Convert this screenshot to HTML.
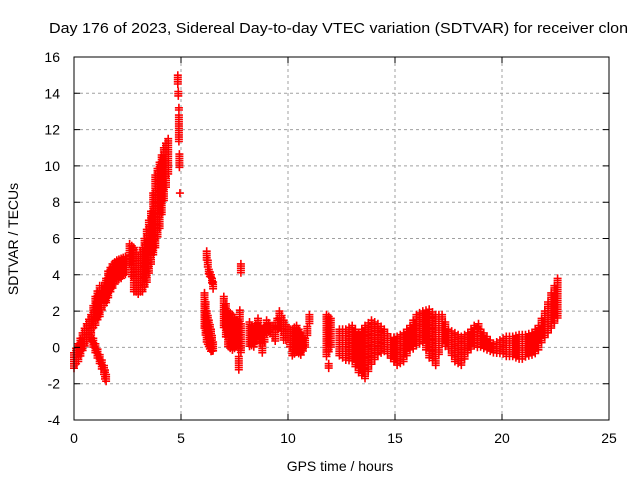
<!DOCTYPE html>
<html><head><meta charset="utf-8"><style>
body{margin:0;background:#fff;}
svg{display:block;font-family:"Liberation Sans",sans-serif;}
</style></head><body>
<svg id="chart" width="640" height="480" xmlns="http://www.w3.org/2000/svg">
<rect width="640" height="480" fill="#fff"/>
<text x="49" y="33" font-size="15" textLength="579" lengthAdjust="spacingAndGlyphs">Day 176 of 2023, Sidereal Day-to-day VTEC variation (SDTVAR) for receiver clon</text>
<g id="grid"></g>
<g id="marks"></g>
<rect x="74" y="57" width="535" height="363" fill="none" stroke="#000" stroke-width="1"/>
<g id="ticks"></g>
<text x="340" y="471" font-size="14" text-anchor="middle">GPS time / hours</text>
<text transform="translate(18,239) rotate(-90)" font-size="14" text-anchor="middle">SDTVAR / TECUs</text>
</svg>
<script>
const xTicks=[0,5,10,15,20,25];
const yTicks=[-4,-2,0,2,4,6,8,10,12,14,16];
// samples: hour, min value, max value
const sampleX=[0.0,0.2,0.4,0.6,0.8,1.0,1.2,1.4,1.6,1.8,2.0,2.2,2.4,
 0.8,1.0,1.2,1.4,1.5,
 2.6,2.8,3.0,3.2,3.4,3.6,3.8,4.0,4.2,4.4,
 4.85,4.9,4.9,4.95,
 6.2,6.3,6.4,6.5,6.1,6.2,6.3,6.4,6.5,
 7.0,7.2,7.4,7.6,7.8,7.7,7.8,
 8.2,8.4,8.6,8.8,9.0,9.2,9.4,9.6,9.8,10.0,
 10.2,10.4,10.6,10.8,11.0,11.8,12.0,11.9,
 12.4,12.7,13.0,13.3,13.6,13.9,14.2,14.5,14.8,15.1,15.4,15.7,16.0,16.3,16.6,16.9,17.2,17.5,17.8,18.1,18.4,18.7,19.0,19.3,19.6,19.9,20.2,20.5,20.8,21.1,21.4,21.7,22.0,22.3,22.6,18.9];
const sampleLo=[-1.2,-0.8,-0.2,0.3,0.8,1.2,1.7,2.2,2.7,3.2,3.6,3.8,4.0,
 0.2,-0.4,-1.0,-1.6,-1.9,
 4.6,3.0,2.9,3.0,3.5,4.5,5.5,6.5,8.0,9.5,
 14.5,13.0,11.3,8.4,
 4.8,4.0,3.8,3.2,1.0,0.3,0.0,-0.3,-0.2,
 1.0,0.0,-0.2,0.0,-0.3,-1.3,4.0,
 0.0,0.0,0.6,-0.3,0.7,0.8,0.3,1.5,0.3,0.5,
 -0.5,-0.3,-0.5,0.0,1.2,-0.6,0.0,-1.2,
 -0.5,-0.8,-0.8,-1.5,-1.8,-1.0,-0.5,-0.3,-0.6,-1.0,-0.8,-0.2,0.0,0.2,-0.6,-1.0,0.2,-0.2,-0.8,-1.0,-0.3,0.0,0.0,-0.2,-0.4,-0.4,-0.5,-0.6,-0.7,-0.6,-0.5,-0.2,0.5,1.0,1.5,1.0];
const sampleHi=[-0.3,0.2,0.8,1.3,1.8,2.8,3.4,3.4,4.2,4.6,4.8,4.9,5.0,
 0.8,0.2,-0.4,-1.0,-1.5,
 5.7,5.5,5.0,5.5,6.5,7.5,9.5,10.2,11.0,11.5,
 15.0,13.2,12.8,8.5,
 5.3,4.3,4.0,3.6,3.0,2.0,1.5,1.0,0.3,
 2.8,2.0,1.8,1.5,1.3,-0.5,4.6,
 1.4,1.0,1.6,0.8,1.5,1.2,1.2,2.0,1.5,1.0,
 1.0,1.2,0.8,0.5,1.8,1.8,1.6,-0.9,
 1.0,1.0,1.2,0.8,1.2,1.5,1.3,1.0,0.5,0.6,0.8,1.2,1.8,2.0,2.1,1.8,1.8,1.0,0.8,0.6,0.8,1.2,1.0,0.6,0.2,0.4,0.6,0.6,0.7,0.7,0.8,1.2,2.0,3.0,3.8,1.3];
const X0=74,X1=609,Y0=420,Y1=57;
function xs(v){return X0+(v-0)/(25-0)*(X1-X0);}
function ys(v){return Y0-(v+4)/(16+4)*(Y0-Y1);}
const NS="http://www.w3.org/2000/svg";
const grid=document.getElementById('grid'),ticks=document.getElementById('ticks'),marks=document.getElementById('marks');
xTicks.forEach(t=>{const x=xs(t);
 if(t>0&&t<25){const l=document.createElementNS(NS,'line');
 
 
 l.setAttribute('x1',x);l.setAttribute('x2',x);l.setAttribute('y1',Y1);l.setAttribute('y2',Y0);
 l.setAttribute('stroke','#a0a0a0');l.setAttribute('stroke-dasharray','3,3');grid.appendChild(l);}
 const tk=document.createElementNS(NS,'path');
 
 
 tk.setAttribute('d',`M${x},${Y0}v-6M${x},${Y1}v6`);tk.setAttribute('stroke','#000');ticks.appendChild(tk);
 const tx=document.createElementNS(NS,'text');
 
 
 tx.setAttribute('x',x);tx.setAttribute('y',443);tx.setAttribute('font-size','14');tx.setAttribute('text-anchor','middle');tx.textContent=t;ticks.appendChild(tx);});
yTicks.forEach(t=>{const y=ys(t);
 if(t>-4&&t<16){const l=document.createElementNS(NS,'line');
 
 
 l.setAttribute('x1',X0);l.setAttribute('x2',X1);l.setAttribute('y1',y);l.setAttribute('y2',y);
 l.setAttribute('stroke','#a0a0a0');l.setAttribute('stroke-dasharray','3,3');grid.appendChild(l);}
 const tk=document.createElementNS(NS,'path');
 
 
 tk.setAttribute('d',`M${X0},${y}h6M${X1},${y}h-6`);tk.setAttribute('stroke','#000');ticks.appendChild(tk);
 const tx=document.createElementNS(NS,'text');
 
 
 tx.setAttribute('x',60);tx.setAttribute('y',y+5);tx.setAttribute('font-size','14');tx.setAttribute('text-anchor','end');tx.textContent=t;ticks.appendChild(tx);});
let d='';
const h=4;
for(let i=0;i<sampleX.length;i++){
 const x=xs(sampleX[i]);const ya=ys(sampleHi[i]),yb=ys(sampleLo[i]);
 for(let y=ya;y<=yb+0.01;y+=2.2){d+=`M${(x-h).toFixed(1)},${y.toFixed(1)}h${2*h}M${x.toFixed(1)},${(y-h).toFixed(1)}v${2*h}`;}
 if(i+1<sampleX.length&&sampleX[i+1]>sampleX[i]&&sampleX[i+1]-sampleX[i]<0.35){
  const xm=xs((sampleX[i]+sampleX[i+1])/2);
  const lo=ys((sampleLo[i]+sampleLo[i+1])/2),hi=ys((sampleHi[i]+sampleHi[i+1])/2);
  for(let y=hi;y<=lo+0.01;y+=2.2){d+=`M${(xm-h).toFixed(1)},${y.toFixed(1)}h${2*h}M${xm.toFixed(1)},${(y-h).toFixed(1)}v${2*h}`;}
 }
}
const p=document.createElementNS(NS,'path');


p.setAttribute('d',d);p.setAttribute('stroke','#ff0000');p.setAttribute('stroke-width','1.6');p.setAttribute('fill','none');
marks.appendChild(p);
</script>
</body></html>
